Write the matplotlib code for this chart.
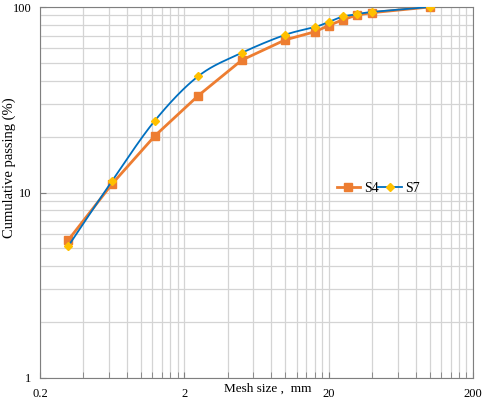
import numpy as np
import matplotlib.pyplot as plt
from matplotlib.ticker import FixedLocator, NullFormatter

# sieve sizes (mm) and cumulative passing (%)
mesh = [0.315, 0.63, 1.25, 2.5, 5, 10, 16, 20, 25, 31.5, 40, 100]
s4 = [5.56, 11.1, 20.2, 33.3, 51.7, 66.5, 73.5, 79.4, 85.3, 90.6, 93.2, 100]
s7 = [5.16, 11.5, 24.4, 42.4, 56.6, 70.8, 77.9, 83.0, 88.9, 91.3, 94.0, 100]

x_major = [0.2, 2, 20, 200]
x_major_labels = ['0.2', '2', '20', '200']
y_major = [1, 10, 100]

plt.rcParams['font.family'] = ['Liberation Serif', 'DejaVu Serif']


def smooth(x, y, n=30):
    # catmull-rom through the points in log space, like excel's smoothed line
    lx, ly = np.log10(x), np.log10(y)
    px = np.concatenate([[2 * lx[0] - lx[1]], lx, [2 * lx[-1] - lx[-2]]])
    py = np.concatenate([[2 * ly[0] - ly[1]], ly, [2 * ly[-1] - ly[-2]]])
    ox, oy = [], []
    t = np.linspace(0, 1, n)
    for i in range(1, len(px) - 2):
        for p, out in ((px, ox), (py, oy)):
            p0, p1, p2, p3 = p[i - 1], p[i], p[i + 1], p[i + 2]
            out.extend(0.5 * (2 * p1 + (-p0 + p2) * t
                              + (2 * p0 - 5 * p1 + 4 * p2 - p3) * t ** 2
                              + (-p0 + 3 * p1 - 3 * p2 + p3) * t ** 3))
    return 10 ** np.array(ox), 10 ** np.array(oy)


fig = plt.figure(figsize=(4.84, 3.99), dpi=100)
ax = fig.add_axes([40 / 484, 21 / 399, 433 / 484, 371 / 399])

ax.plot(mesh, s4, color='#ED7D31', lw=2, marker='s', ms=6,
        mfc='#ED7D31', mec='#ED7D31', label='S4', zorder=3)
sx, sy = smooth(mesh, s7)
ax.plot(sx, sy, color='#0070C0', lw=1.3, zorder=4)
ax.plot(mesh, s7, ls='none', marker='D', ms=4, mfc='#FFC000', mec='#FFC000', zorder=5)
ax.plot([], [], color='#0070C0', lw=1.3, marker='D', ms=4,
        mfc='#FFC000', mec='#FFC000', label='S7')

ax.set_xscale('log')
ax.set_yscale('log')
ax.set_xlim(0.2, 200)
ax.set_ylim(1, 100)

x_minor = [k * 0.2 * 10 ** d for d in range(3) for k in range(2, 10)]
y_minor = [k * 10 ** d for d in range(2) for k in range(2, 10)]
ax.xaxis.set_major_locator(FixedLocator(x_major))
ax.xaxis.set_minor_locator(FixedLocator(x_minor))
ax.xaxis.set_minor_formatter(NullFormatter())
ax.set_xticklabels(x_major_labels)
ax.yaxis.set_major_locator(FixedLocator(y_major))
ax.yaxis.set_minor_locator(FixedLocator(y_minor))
ax.yaxis.set_minor_formatter(NullFormatter())
ax.set_yticklabels([str(v) for v in y_major])

ax.grid(True, which='both', color='#d4d4d4', lw=0.9)
ax.set_axisbelow(True)
ax.tick_params(which='both', direction='in', length=4, color='#7f7f7f',
               labelsize=9)
ax.tick_params(axis='x', which='both', pad=7)
ax.tick_params(axis='y', which='both', pad=6)
ax.tick_params(axis='y', which='minor', length=0)
for sp in ax.spines.values():
    sp.set_color('#7f7f7f')

fig.text(9 / 484, 1 - 168 / 399, 'Cumulative passing (%)', rotation=90,
         ha='center', va='center', fontsize=10.5)
ax.text(0.527, -0.03, 'Mesh size ,  mm', transform=ax.transAxes,
        ha='center', va='center', fontsize=9.5)

ax.legend(loc='center left', bbox_to_anchor=(0.685, 0.512), ncol=2, frameon=False,
          fontsize=10, handlelength=1.7, handletextpad=0.25, columnspacing=0.0,
          borderaxespad=0, borderpad=0)

fig.savefig('out.png', dpi=100)
